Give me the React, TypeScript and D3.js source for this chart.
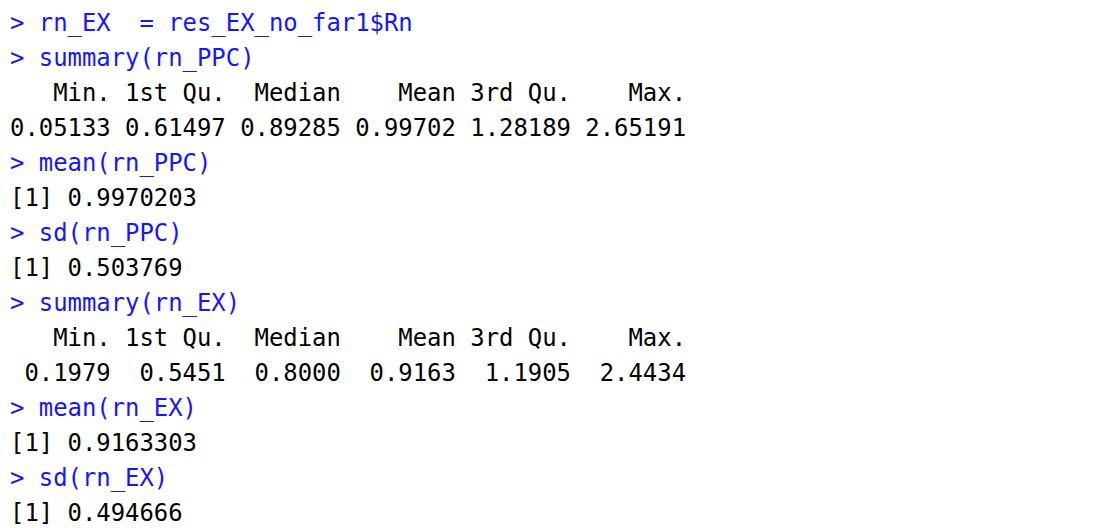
import React from 'react';
import * as d3 from 'd3';

// console lines: [kind, text]; kind 'in' = command (blue), 'out' = output (black)
const summaryHeader = '   Min. 1st Qu.  Median    Mean 3rd Qu.    Max. ';
const summaryPPC = '0.05133 0.61497 0.89285 0.99702 1.28189 2.65191 ';
const summaryEX = ' 0.1979  0.5451  0.8000  0.9163  1.1905  2.4434 ';

const consoleLines: [string, string][] = [
  ['in', '> rn_EX  = res_EX_no_far1$Rn'],
  ['in', '> summary(rn_PPC)'],
  ['out', summaryHeader],
  ['out', summaryPPC],
  ['in', '> mean(rn_PPC)'],
  ['out', '[1] 0.9970203'],
  ['in', '> sd(rn_PPC)'],
  ['out', '[1] 0.503769'],
  ['in', '> summary(rn_EX)'],
  ['out', summaryHeader],
  ['out', summaryEX],
  ['in', '> mean(rn_EX)'],
  ['out', '[1] 0.9163303'],
  ['in', '> sd(rn_EX)'],
  ['out', '[1] 0.494666'],
];

const App = () => {
  const width = 1100;
  const height = 528;
  const y = d3.scaleLinear().domain([0, 1]).range([31, 66]);

  return (
    <svg width={width} height={height} style={{ position: 'absolute', left: 0, top: 0, background: '#fff' }}>
      {consoleLines.map(([kind, text], i) => (
        <text
          key={i}
          x={10}
          y={y(i)}
          fontFamily="'DejaVu Sans Mono', monospace"
          fontSize={23.9}
          fill={kind === 'in' ? '#1515ff' : '#000'}
          style={{ whiteSpace: 'pre' }}
        >
          {text}
        </text>
      ))}
    </svg>
  );
};

export default App;
